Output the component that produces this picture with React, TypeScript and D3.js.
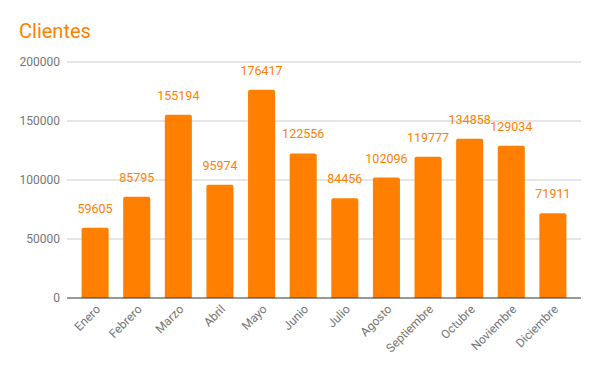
import React from "react";
import * as d3 from "d3";

const months = [
  "Enero", "Febrero", "Marzo", "Abril", "Mayo", "Junio",
  "Julio", "Agosto", "Septiembre", "Octubre", "Noviembre", "Diciembre",
];
const clientes = [59605, 85795, 155194, 95974, 176417, 122556, 84456, 102096, 119777, 134858, 129034, 71911];
const yTicks = [0, 50000, 100000, 150000, 200000];

const W = 600;
const H = 371;
const margin = { top: 62, right: 19, bottom: 73, left: 67 };
const orange = "#ff8000";

export default function App() {
  const x = d3
    .scaleBand<string>()
    .domain(months)
    .range([margin.left, W - margin.right])
    .padding(0.35);
  const y = d3
    .scaleLinear()
    .domain([0, 200000])
    .range([H - margin.bottom, margin.top]);

  const bw = x.bandwidth();
  const base = y(0);

  return (
    <svg
      width={W}
      height={H}
      style={{ position: "absolute", left: 0, top: 0, fontFamily: "Roboto, sans-serif" }}
    >
      <rect width={W} height={H} fill="#fff" />
      <text x={19} y={38} fontSize={20} fill={orange}>
        Clientes
      </text>

      {/* grid + y labels */}
      {yTicks.map((t) => (
        <g key={t}>
          {t > 0 && (
            <line x1={margin.left} x2={W - margin.right} y1={y(t)} y2={y(t)} stroke="#cccccc" strokeWidth={1} />
          )}
          <text x={60} y={y(t)} dy="0.35em" textAnchor="end" fontSize={12} fill="#757575">
            {t}
          </text>
        </g>
      ))}

      {/* bars */}
      {months.map((m, i) => {
        const top = y(clientes[i]);
        const h = base - top;
        const r = 2;
        const x0 = x(m)!;
        const path = `M${x0},${base} V${top + r} Q${x0},${top} ${x0 + r},${top} H${x0 + bw - r} Q${x0 + bw},${top} ${x0 + bw},${top + r} V${base} Z`;
        return (
          <g key={m}>
            <path d={h > 0 ? path : ""} fill={orange} />
            <text x={x0 + bw / 2} y={top - 15} textAnchor="middle" fontSize={12.5} fill={orange}>
              {clientes[i]}
            </text>
          </g>
        );
      })}

      <line x1={margin.left} x2={W - margin.right} y1={base} y2={base} stroke="#333333" strokeWidth={1} />

      {/* x labels */}
      {months.map((m) => {
        const cx = x(m)! + bw / 2 + 6;
        const cy = base + 12;
        return (
          <text
            key={m}
            x={cx}
            y={cy}
            textAnchor="end"
            fontSize={12}
            fill="#757575"
            transform={`rotate(-45, ${cx}, ${cy})`}
          >
            {m}
          </text>
        );
      })}
    </svg>
  );
}
